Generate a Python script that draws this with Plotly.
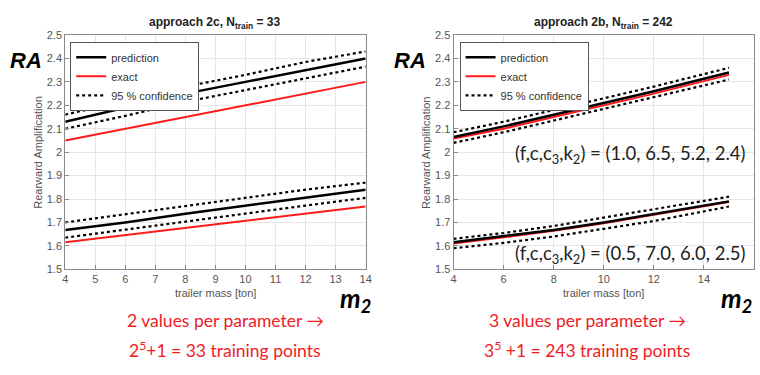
import plotly.graph_objects as go

# ---------------- data ----------------
x_left = [4, 6, 8, 10, 12, 14]
left_hi_pred = [2.13, 2.19, 2.25, 2.30, 2.35, 2.40]
left_hi_up = [2.16, 2.22, 2.28, 2.33, 2.385, 2.43]
left_hi_lo = [2.10, 2.155, 2.215, 2.265, 2.315, 2.365]
left_hi_exact = [2.05, 2.10, 2.15, 2.20, 2.25, 2.30]
left_lo_pred = [1.668, 1.70, 1.737, 1.772, 1.806, 1.84]
left_lo_up = [1.70, 1.735, 1.77, 1.805, 1.84, 1.87]
left_lo_lo = [1.635, 1.67, 1.704, 1.738, 1.772, 1.805]
left_lo_exact = [1.615, 1.645, 1.675, 1.705, 1.737, 1.768]

x_right = [4, 6, 8, 10, 12, 15]
right_hi_pred = [2.065, 2.11, 2.16, 2.21, 2.26, 2.34]
right_hi_up = [2.085, 2.13, 2.18, 2.23, 2.28, 2.36]
right_hi_lo = [2.04, 2.085, 2.135, 2.185, 2.235, 2.31]
right_hi_exact = [2.058, 2.10, 2.15, 2.20, 2.25, 2.33]
right_lo_pred = [1.615, 1.64, 1.668, 1.70, 1.735, 1.79]
right_lo_up = [1.63, 1.655, 1.685, 1.72, 1.755, 1.81]
right_lo_lo = [1.59, 1.613, 1.64, 1.672, 1.706, 1.768]
right_lo_exact = [1.61, 1.636, 1.664, 1.697, 1.732, 1.787]

left_title = "<b>approach 2c, N<sub>train</sub> = 33</b>"
right_title = "<b>approach 2b, N<sub>train</sub> = 242</b>"
left_note = ["2 values per parameter \u2192", "2<sup>5</sup>+1 = 33 training points"]
right_note = ["3 values per parameter \u2192", "3<sup>5</sup> +1 = 243 training points"]
param_labels = ["(f,c,c<sub>3</sub>,k<sub>2</sub>) = (1.0, 6.5, 5.2, 2.4)",
                "(f,c,c<sub>3</sub>,k<sub>2</sub>) = (0.5, 7.0, 6.0, 2.5)"]

W, H = 760, 375
fig = go.Figure()

def px(x):
    return x / W

def py(y):
    return 1 - y / H

def add_group(xs, pred, up, lo, exact, xa, ya, legend):
    fig.add_trace(go.Scatter(x=xs, y=up, mode="lines", xaxis=xa, yaxis=ya,
                             line=dict(color="black", width=2.2, dash="dot"),
                             name="95 % confidence", legend=legend, showlegend=False))
    fig.add_trace(go.Scatter(x=xs, y=lo, mode="lines", xaxis=xa, yaxis=ya,
                             line=dict(color="black", width=2.2, dash="dot"),
                             name="95 % confidence", legend=legend, showlegend=False))
    fig.add_trace(go.Scatter(x=xs, y=exact, mode="lines", xaxis=xa, yaxis=ya,
                             line=dict(color="#ff1a1a", width=2),
                             name="exact", legend=legend, showlegend=False))
    fig.add_trace(go.Scatter(x=xs, y=pred, mode="lines", xaxis=xa, yaxis=ya,
                             line=dict(color="black", width=2.5),
                             name="prediction", legend=legend, showlegend=False))

add_group(x_left, left_hi_pred, left_hi_up, left_hi_lo, left_hi_exact, "x", "y", "legend")
add_group(x_left, left_lo_pred, left_lo_up, left_lo_lo, left_lo_exact, "x", "y", "legend")
add_group(x_right, right_hi_pred, right_hi_up, right_hi_lo, right_hi_exact, "x2", "y2", "legend2")
add_group(x_right, right_lo_pred, right_lo_up, right_lo_lo, right_lo_exact, "x2", "y2", "legend2")

# legend-only entries (ordered)
for lg, xa, ya in [("legend", "x", "y"), ("legend2", "x2", "y2")]:
    fig.add_trace(go.Scatter(x=[None], y=[None], mode="lines", xaxis=xa, yaxis=ya,
                             line=dict(color="black", width=2.5), name="prediction", legend=lg))
    fig.add_trace(go.Scatter(x=[None], y=[None], mode="lines", xaxis=xa, yaxis=ya,
                             line=dict(color="#ff1a1a", width=2), name="exact", legend=lg))
    fig.add_trace(go.Scatter(x=[None], y=[None], mode="lines", xaxis=xa, yaxis=ya,
                             line=dict(color="black", width=2.2, dash="dot"),
                             name="95 % confidence", legend=lg))

axis_common = dict(showline=True, mirror=True, linecolor="#8a8a8a", linewidth=1,
                   showgrid=True, gridcolor="#e6e6e6", gridwidth=1,
                   ticks="inside", ticklen=4, tickcolor="#8a8a8a",
                   tickfont=dict(family="Arial", size=11, color="#555555"),
                   zeroline=False)

ydom = [py(272), py(30)]
legend_common = dict(xanchor="left", yanchor="top", bgcolor="white",
                     bordercolor="#555555", borderwidth=1,
                     font=dict(family="Arial", size=11, color="#333333"),
                     tracegroupgap=0, itemwidth=30)
fig.update_layout(
    width=W, height=H, margin=dict(l=0, r=0, t=0, b=0),
    paper_bgcolor="white", plot_bgcolor="white",
    xaxis=dict(domain=[px(63), px(367)], range=[4, 14], dtick=1, anchor="y", **axis_common),
    yaxis=dict(domain=ydom, range=[1.5, 2.5], dtick=0.1, anchor="x",
               tickformat="~g", **axis_common),
    xaxis2=dict(domain=[px(456), 1.0], range=[4, 16], dtick=2, anchor="y2", **axis_common),
    yaxis2=dict(domain=ydom, range=[1.5, 2.5], dtick=0.1, anchor="x2",
                tickformat="~g", **axis_common),
    legend=dict(x=px(68), y=py(37), **legend_common),
    legend2=dict(x=px(462), y=py(37), **legend_common),
)

ann = []
# titles
ann.append(dict(text=left_title, x=px(215), y=py(18), font=dict(family="Arial", size=12, color="#222222")))
ann.append(dict(text=right_title, x=px(608), y=py(18), font=dict(family="Arial", size=12, color="#222222")))
# x-axis titles
ann.append(dict(text="trailer mass [ton]", x=px(215), y=py(296), font=dict(family="Arial", size=11, color="#555555")))
ann.append(dict(text="trailer mass [ton]", x=px(608), y=py(296), font=dict(family="Arial", size=11, color="#555555")))
# y-axis titles
ann.append(dict(text="Rearward Amplification", x=px(36), y=py(151), textangle=-90,
                font=dict(family="Arial", size=11, color="#555555")))
ann.append(dict(text="Rearward Amplification", x=px(428), y=py(151), textangle=-90,
                font=dict(family="Arial", size=11, color="#555555")))
# RA labels
ann.append(dict(text="<b><i>RA</i></b>", x=px(23), y=py(56), font=dict(family="Arial", size=22, color="black")))
ann.append(dict(text="<b><i>RA</i></b>", x=px(412), y=py(56), font=dict(family="Arial", size=22, color="black")))
# m2 labels
m2 = "<b><i>m</i></b><sub><b><i>2</i></b></sub>"
ann.append(dict(text=m2, x=px(357), y=py(303), font=dict(family="Lato", size=26, color="black")))
ann.append(dict(text=m2, x=px(742), y=py(303), font=dict(family="Lato", size=26, color="black")))
# red notes
for i, t in enumerate(left_note):
    ann.append(dict(text=t, x=px(225), y=py(325 + 30 * i), font=dict(family="Lato", size=17.5, color="#ee1c25")))
for i, t in enumerate(right_note):
    ann.append(dict(text=t, x=px(591), y=py(325 + 30 * i), font=dict(family="Lato", size=17.5, color="#ee1c25")))
# parameter labels
for t, yy in zip(param_labels, [153, 257]):
    ann.append(dict(text=t, x=px(635), y=py(yy), font=dict(family="Lato", size=18.5, color="#222222")))

for a in ann:
    a.update(xref="paper", yref="paper", showarrow=False, xanchor="center", yanchor="middle")
fig.update_layout(annotations=ann)

fig.write_html("out.html")
